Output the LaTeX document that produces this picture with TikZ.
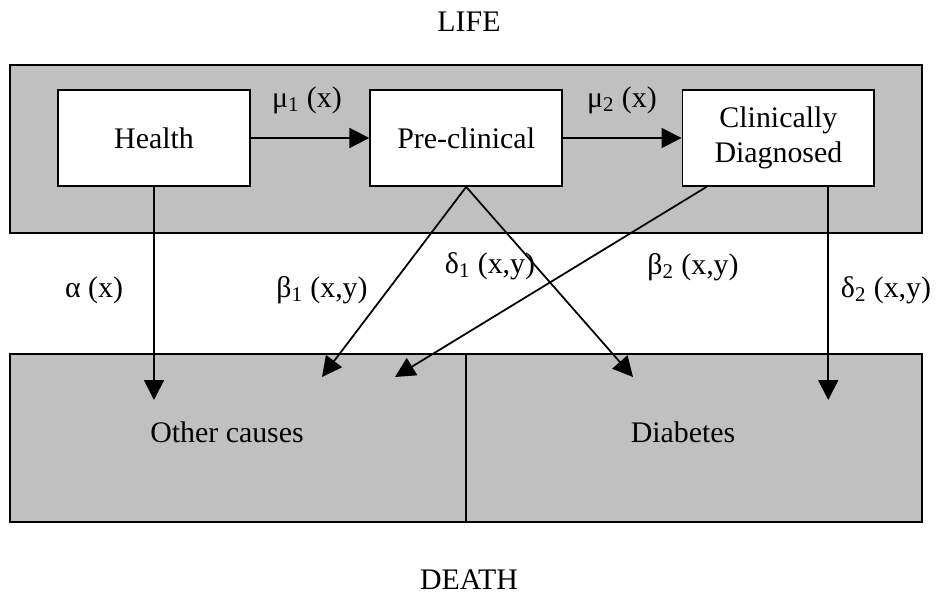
\documentclass[tikz,border=0pt]{standalone}
\usepackage{fontspec}
\setmainfont{Liberation Serif}
\usetikzlibrary{arrows.meta,positioning,calc}
\definecolor{boxgray}{RGB}{192,192,192}
\tikzset{
  % state boxes inside the LIFE panel
  block/.style={draw, fill=white, rectangle, line width=1pt,
  minimum height=1.92cm,
  minimum width=3.84cm, align=center},
  % grey panels for LIFE and DEATH
  panel/.style={draw, fill=boxgray, rectangle, line width=1pt,
  minimum height=3.36cm},
  rate/.style={inner sep=0pt}}

\begin{document}
\begin{tikzpicture}[x=0.02cm, y=-0.02cm,
    font=\fontsize{17}{20}\selectfont,
    >={Triangle[length=0.4cm, width=0.4cm]}, % big filled heads
    line width=1pt,
    ]
\useasboundingbox (0,0) rectangle (938,612);

\node (lifelbl) at (469,22) {LIFE};
\node (deathlbl) at (469,580) {DEATH};

\node (life) [panel, minimum width=18.24cm] at (466,149) {};

\node (health) [block] at (154,138) {Health};
\node (pre) [block, right=2.37cm of health] {Pre-clinical};
\node (clin) [block, right=2.37cm of pre] {Clinically\\Diagnosed};

\node (other) [panel, minimum width=9.12cm] at (238,438) {};
\node (diab) [panel, minimum width=9.12cm] at (694,438) {};
\node (otherlbl) at (227,432) {Other causes};
\node (diablbl) at (683,432) {Diabetes};

% end points of the exits, inside the DEATH panels
\coordinate (cs1) at ($(clin.south west)+(25,0)$); %cs -- clinical start
\coordinate (cs2) at ($(clin.south east)-(47,0)$);
\coordinate (aend) at (health.south |- 0,400);
\coordinate (b1end) at (322,377);
\coordinate (b2end) at (395,377);
\coordinate (d1end) at (633,377);
\coordinate (d2end) at (cs2 |- 0,400);

\draw [->] (health) -- (pre);
\draw [->] (pre) -- (clin);
\draw [->] (health.south) -- (aend);
\draw [->] (pre.south) -- (b1end);
\draw [->] (pre.south) -- (d1end);
\draw [->] (cs1) -- (b2end);
\draw [->] (cs2) -- (d2end);

\node (mu1) [rate] at (307,100) {μ\textsubscript{1} (x)};
\node (mu2) [rate] at (622,100) {μ\textsubscript{2} (x)};
\node (alpha) [rate] at (94,290) {α (x)};
\node (beta1) [rate] at (322,290) {β\textsubscript{1} (x,y)};
\node (delta1) [rate] at (490,266) {δ\textsubscript{1} (x,y)};
\node (beta2) [rate] at (693,267) {β\textsubscript{2} (x,y)};
\node (delta2) [rate] at (886,290) {δ\textsubscript{2} (x,y)};

\end{tikzpicture}
\end{document}
